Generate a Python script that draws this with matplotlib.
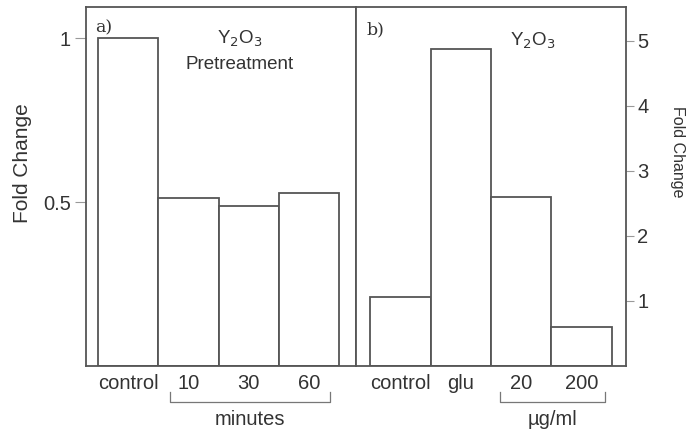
import matplotlib
matplotlib.use("Agg")
import matplotlib.pyplot as plt
from matplotlib.transforms import blended_transform_factory

plt.rcParams["font.family"] = ["Liberation Sans", "DejaVu Sans"]

# panel a: pretreatment
a_labels = ["control", "10", "30", "60"]
a_values = [1.0, 0.512, 0.488, 0.528]

# panel b: Y2O3 dose
b_labels = ["control", "glu", "20", "200"]
b_values = [1.06, 4.88, 2.6, 0.6]

EDGE = "#555555"
TXT = "#333333"

fig = plt.figure(figsize=(6.88, 4.30), dpi=100)
W, H = 688, 430
ax1 = fig.add_axes([86 / W, (430 - 366) / H, 270 / W, 359 / H])
ax2 = fig.add_axes([356 / W, (430 - 366) / H, 270 / W, 359 / H])

for ax, vals, labs in [(ax1, a_values, a_labels), (ax2, b_values, b_labels)]:
    x = range(len(vals))
    ax.bar(x, vals, width=1.0, facecolor="white", edgecolor=EDGE, linewidth=1.3)
    ax.set_xticks(list(x))
    ax.set_xticklabels(labs, fontsize=14.5, color=TXT)
    ax.tick_params(axis="x", length=0, pad=6)
    for s in ax.spines.values():
        s.set_color(EDGE)
        s.set_linewidth(1.3)

ax1.set_xlim(-0.7, 3.78)
ax1.set_ylim(0, 1.095)
ax1.set_yticks([0.5, 1])
ax1.set_yticklabels(["0.5", "1"])
ax1.tick_params(axis="y", length=8, width=0.8, color="#999999",
                labelsize=14.5, labelcolor=TXT, pad=3)

ax2.set_xlim(-0.733, 3.733)
ax2.set_ylim(0, 5.52)
ax2.yaxis.tick_right()
ax2.set_yticks([1, 2, 3, 4, 5])
ax2.tick_params(axis="y", length=6, width=0.8, color="#999999",
                labelsize=14.5, labelcolor=TXT, pad=2)

# axis titles placed in figure pixels
fig.text(23 / W, 1 - 163 / H, "Fold Change", rotation=90, fontsize=15,
         color=TXT, ha="center", va="center")
fig.text(677 / W, 1 - 152 / H, "Fold Change", rotation=-90, fontsize=11.5,
         color=TXT, ha="center", va="center")

# panel text
ax1.text(0.035, 0.965, "a)", transform=ax1.transAxes, fontsize=12.5,
         family="DejaVu Serif", color=TXT, va="top")
ax1.text(0.57, 0.91, r"Y$_2$O$_3$", transform=ax1.transAxes, fontsize=13.5,
         color=TXT, ha="center", va="center")
ax1.text(0.57, 0.84, "Pretreatment", transform=ax1.transAxes, fontsize=13.5,
         color=TXT, ha="center", va="center")
ax2.text(0.04, 0.96, "b)", transform=ax2.transAxes, fontsize=12.5,
         family="DejaVu Serif", color=TXT, va="top")
ax2.text(0.655, 0.905, r"Y$_2$O$_3$", transform=ax2.transAxes, fontsize=13.5,
         color=TXT, ha="center", va="center")

# group brackets under the x labels
def bracket(ax, x0, x1, label):
    tr = blended_transform_factory(ax.transData, ax.transAxes)
    ax.plot([x0, x0, x1, x1], [-0.072, -0.1, -0.1, -0.072], transform=tr,
            color="#777777", lw=0.9, clip_on=False)
    ax.text((x0 + x1) / 2, -0.15, label, transform=tr, ha="center",
            va="center", fontsize=14.5, color=TXT)

bracket(ax1, 0.7, 3.35, "minutes")
bracket(ax2, 1.65, 3.38, "\u00b5g/ml")

fig.savefig("out.png", dpi=100, facecolor="white")
